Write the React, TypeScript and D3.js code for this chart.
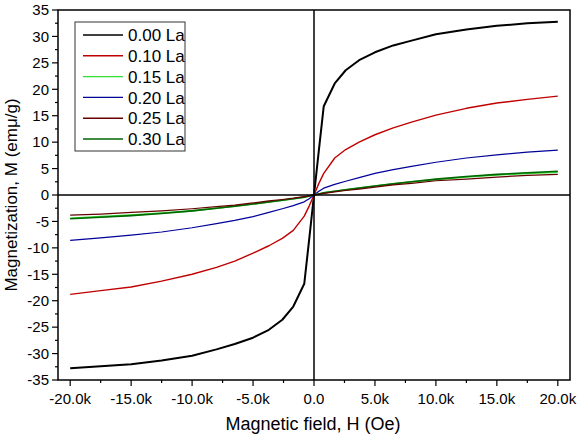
import React from "react";
import * as d3 from "d3";

const fieldH = [-20000, -17500, -15000, -12500, -10000, -8000, -6500, -5000, -3700, -2600, -1700, -800, -400, 0, 400, 800, 1700, 2600, 3700, 5000, 6500, 8000, 10000, 12500, 15000, 17500, 20000];

const m000 = [-32.8, -32.4, -32.0, -31.3, -30.4, -29.2, -28.2, -27.0, -25.5, -23.6, -21.1, -16.8, -8.5, 0, 8.5, 16.8, 21.1, 23.6, 25.5, 27.0, 28.3, 29.2, 30.4, 31.3, 32.0, 32.5, 32.8];
const m010 = [-18.8, -18.1, -17.4, -16.3, -15.0, -13.7, -12.5, -11.0, -9.6, -8.2, -6.7, -4.0, -2.1, 0, 2.2, 4.1, 7.0, 8.6, 10.0, 11.4, 12.7, 13.8, 15.1, 16.4, 17.4, 18.1, 18.7];
const m015 = [-4.4, -4.1, -3.8, -3.4, -3.0, -2.5, -2.1, -1.7, -1.3, -1.0, -0.7, -0.4, -0.2, 0, 0.2, 0.4, 0.7, 1.0, 1.3, 1.7, 2.1, 2.5, 2.9, 3.4, 3.8, 4.1, 4.3];
const m020 = [-8.6, -8.1, -7.6, -7.0, -6.2, -5.4, -4.8, -4.1, -3.3, -2.6, -2.0, -1.3, -0.7, 0, 0.7, 1.3, 2.0, 2.6, 3.3, 4.1, 4.8, 5.4, 6.2, 7.0, 7.6, 8.1, 8.5];
const m025 = [-3.8, -3.6, -3.3, -3.0, -2.6, -2.2, -1.9, -1.5, -1.1, -0.85, -0.6, -0.3, -0.15, 0, 0.15, 0.3, 0.6, 0.85, 1.1, 1.5, 1.9, 2.2, 2.7, 3.0, 3.4, 3.7, 3.9];
const m030 = [-4.5, -4.2, -3.9, -3.5, -3.0, -2.5, -2.1, -1.7, -1.3, -1.0, -0.7, -0.4, -0.2, 0, 0.2, 0.4, 0.7, 1.0, 1.3, 1.7, 2.1, 2.5, 3.0, 3.5, 3.9, 4.2, 4.5];

const seriesNames = ["0.00 La", "0.10 La", "0.15 La", "0.20 La", "0.25 La", "0.30 La"];
const seriesValues = [m000, m010, m015, m020, m025, m030];
const seriesColors = ["#000000", "#c00000", "#33dd33", "#000099", "#660000", "#006600"];
const seriesWidths = [2, 1.4, 1.6, 1.2, 1.2, 1.6];
const drawOrder = [0, 1, 3, 2, 5, 4];

const xMajorTicks = [-20000, -15000, -10000, -5000, 0, 5000, 10000, 15000, 20000];
const xTickLabels = ["-20.0k", "-15.0k", "-10.0k", "-5.0k", "0.0", "5.0k", "10.0k", "15.0k", "20.0k"];
const xMinorTicks = [-17500, -12500, -7500, -2500, 2500, 7500, 12500, 17500];
const yMajorTicks = [-35, -30, -25, -20, -15, -10, -5, 0, 5, 10, 15, 20, 25, 30, 35];
const yMinorTicks = [-32.5, -27.5, -22.5, -17.5, -12.5, -7.5, -2.5, 2.5, 7.5, 12.5, 17.5, 22.5, 27.5, 32.5];

const W = 579;
const H = 436;
const left = 58;
const right = 570;
const top = 10;
const bottom = 380;
const font = "'Liberation Sans', Arial, sans-serif";

export default function App() {
  const x = d3.scaleLinear().domain([-21000, 21000]).range([left, right]);
  const y = d3.scaleLinear().domain([-35, 35]).range([bottom, top]);
  const line = d3
    .line<[number, number]>()
    .x((d) => x(d[0]))
    .y((d) => y(d[1]))
    .curve(d3.curveLinear);

  return (
    <svg
      width={W}
      height={H}
      style={{ position: "absolute", left: 0, top: 0, background: "#fff" }}
      fontFamily={font}
    >
      <rect x={0} y={0} width={W} height={H} fill="#fff" />
      {/* series */}
      {drawOrder.map((i) => (
        <path
          key={i}
          d={line(fieldH.map((h, k) => [h, seriesValues[i][k]]) as [number, number][]) || ""}
          fill="none"
          stroke={seriesColors[i]}
          strokeWidth={seriesWidths[i]}
          strokeLinejoin="round"
        />
      ))}
      {/* zero lines */}
      <line x1={left} x2={right} y1={y(0)} y2={y(0)} stroke="#000" strokeWidth={1.5} />
      <line x1={x(0)} x2={x(0)} y1={top} y2={bottom} stroke="#000" strokeWidth={1.5} />
      {/* frame */}
      <rect x={left} y={top} width={right - left} height={bottom - top} fill="none" stroke="#000" strokeWidth={1.5} />
      {/* x ticks */}
      {xMajorTicks.map((t, i) => (
        <g key={"xm" + t}>
          <line x1={x(t)} x2={x(t)} y1={bottom} y2={bottom + 6} stroke="#000" strokeWidth={1.2} />
          <text x={x(t)} y={404} fontSize={15} textAnchor="middle" fill="#000">
            {xTickLabels[i]}
          </text>
        </g>
      ))}
      {xMinorTicks.map((t) => (
        <line key={"xn" + t} x1={x(t)} x2={x(t)} y1={bottom} y2={bottom + 3} stroke="#000" strokeWidth={1.2} />
      ))}
      {/* y ticks */}
      {yMajorTicks.map((t) => (
        <g key={"ym" + t}>
          <line x1={left - 6} x2={left} y1={y(t)} y2={y(t)} stroke="#000" strokeWidth={1.2} />
          <text x={49} y={y(t)} dy="0.35em" fontSize={15} textAnchor="end" fill="#000">
            {t}
          </text>
        </g>
      ))}
      {yMinorTicks.map((t) => (
        <line key={"yn" + t} x1={left - 3} x2={left} y1={y(t)} y2={y(t)} stroke="#000" strokeWidth={1.2} />
      ))}
      {/* axis titles */}
      <text x={(left + right) / 2 - 1} y={430} fontSize={18} textAnchor="middle" fill="#000">
        Magnetic field, H (Oe)
      </text>
      <text
        transform={`translate(17, ${(top + bottom) / 2}) rotate(-90)`}
        fontSize={17}
        textAnchor="middle"
        fill="#000"
      >
        Magnetization, M (emμ/g)
      </text>
      {/* legend */}
      <rect x={75} y={22} width={110} height={129} fill="#fff" stroke="#333" strokeWidth={1} />
      {seriesNames.map((n, i) => (
        <g key={n}>
          <line x1={83} x2={123} y1={35 + i * 20.8} y2={35 + i * 20.8} stroke={seriesColors[i]} strokeWidth={1.4} />
          <text x={128} y={35 + i * 20.8} dy="0.36em" fontSize={17} fill="#000">
            {n}
          </text>
        </g>
      ))}
    </svg>
  );
}
